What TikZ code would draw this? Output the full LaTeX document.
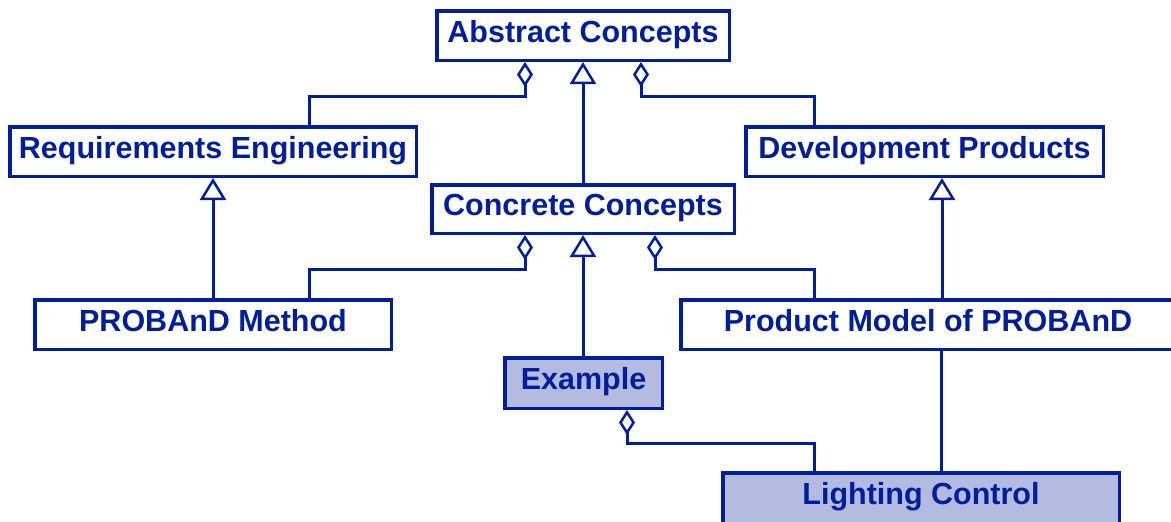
\documentclass[tikz,border=0pt]{standalone}
\usepackage{fontspec}
\setmainfont{Liberation Sans}
\usetikzlibrary{arrows.meta}
\definecolor{ub}{RGB}{0,30,155}
\definecolor{ubfill}{RGB}{179,187,224}
\begin{document}
\begin{tikzpicture}[x=1pt,y=-1pt,
  box/.style={draw=ub, line width=3.5pt, inner sep=0pt, text=ub, fill=white,
    font=\fontsize{30.5}{36}\selectfont\bfseries, text height=21pt, text depth=8pt},
  hbox/.style={box, fill=ubfill},
  conn/.style={draw=ub, line width=3pt},
  agg/.style={conn, {Diamond[open, length=25pt, width=16pt, line width=2.5pt]}-},
  gen/.style={conn, {Triangle[open, length=22pt, width=26pt, line width=2.5pt]}-}]
\useasboundingbox (0,0) rectangle (1171,522);

\node[box, minimum width=292.5pt, minimum height=49.5pt] (abs) at (583,35.5) {Abstract Concepts};
\node[box, minimum width=406.5pt, minimum height=49.5pt] (req) at (213,151.5) {Requirements Engineering};
\node[box, minimum width=357.5pt, minimum height=49.5pt] (dev) at (924.5,151.5) {Development Products};
\node[box, minimum width=302.5pt, minimum height=48.5pt] (con) at (583,209) {Concrete Concepts};
\node[box, minimum width=356.5pt, minimum height=49.5pt] (pm) at (213,324.5) {PROBAnD Method};
\node[box, minimum width=494.5pt, minimum height=49.5pt] (prod) at (928,324.5) {Product Model of PROBAnD};
\node[hbox, minimum width=157.5pt, minimum height=50.5pt] (ex) at (583.5,383) {Example};
\node[hbox, minimum width=396.5pt, minimum height=50.5pt] (lc) at (921,498) {Lighting Control};

\draw[agg] (abs.south -| 525,0) |- (309,96) -- (req.north -| 309,0);
\draw[gen] (abs.south) -- (con.north);
\draw[agg] (abs.south -| 641,0) |- (814,96) -- (dev.north -| 814,0);
\draw[gen] (req.south) -- (pm.north);
\draw[agg] (con.south -| 525,0) |- (309,269) -- (pm.north -| 309,0);
\draw[gen] (con.south) -- (con.south |- ex.north);
\draw[agg] (con.south -| 655,0) |- (814,269) -- (prod.north -| 814,0);
\draw[gen] (dev.south -| 942,0) -- (prod.north -| 942,0);
\draw[conn] (prod.south -| 941,0) -- (lc.north -| 941,0);
\draw[agg] (ex.south -| 627,0) |- (814,443) -- (lc.north -| 814,0);
\end{tikzpicture}
\end{document}
